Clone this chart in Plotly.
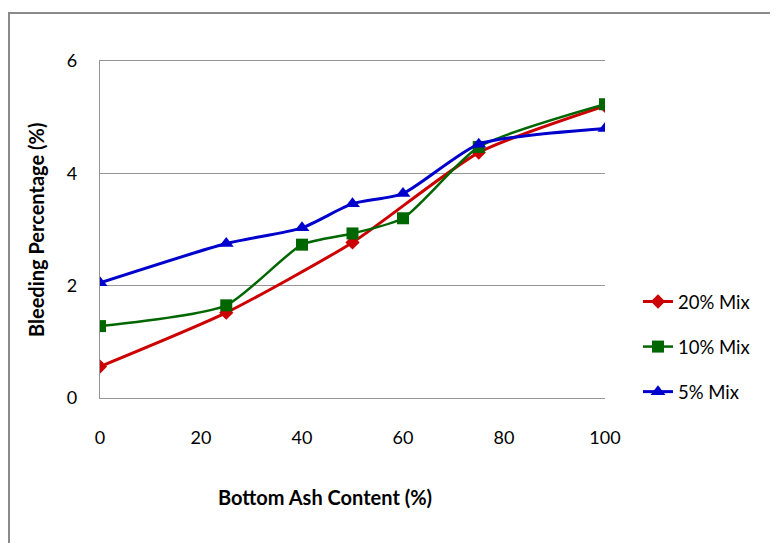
import plotly.graph_objects as go

x_20 = [0, 25, 50, 75, 100]
y_20 = [0.56, 1.52, 2.77, 4.37, 5.20]
x_10 = [0, 25, 40, 50, 60, 75, 100]
y_10 = [1.28, 1.65, 2.73, 2.93, 3.20, 4.47, 5.23]
x_5 = [0, 25, 40, 50, 60, 75, 100]
y_5 = [2.05, 2.75, 3.03, 3.46, 3.64, 4.52, 4.80]

x_ticks = [0, 20, 40, 60, 80, 100]
y_ticks = [0, 2, 4, 6]

FONT = "Lato"
OFF = 8  # default page body margin
fig = go.Figure()
fig.add_trace(go.Scatter(x=x_20, y=y_20, name="20% Mix", legendgroup="a", mode="lines+markers",
                         line=dict(color="#CC0000", width=3, shape="spline", smoothing=0.6),
                         marker=dict(symbol="diamond", size=11, color="#CC0000")))
fig.add_trace(go.Scatter(x=x_10, y=y_10, name="10% Mix", legendgroup="b", mode="lines+markers",
                         line=dict(color="#006600", width=2.5, shape="spline", smoothing=0.6),
                         marker=dict(symbol="square", size=12, color="#006600")))
fig.add_trace(go.Scatter(x=x_5, y=y_5, name="5% Mix", legendgroup="c", mode="lines+markers",
                         line=dict(color="#0000CC", width=3, shape="spline", smoothing=0.6),
                         marker=dict(symbol="triangle-up", size=13, color="#0000CC")))

# screen coordinates of plot area
L, R, T, B = 100, 605, 61, 398
W, H = 778 - OFF, 543 - OFF
pw, ph = R - L, B - T

def px(xp):
    return (xp - L) / pw

def py(yp):
    return (B - yp) / ph

fig.update_layout(
    width=W, height=H,
    margin=dict(l=L - OFF, r=778 - R, t=T - OFF, b=543 - B),
    paper_bgcolor="white", plot_bgcolor="white",
    font=dict(family=FONT, size=18, color="black"),
    showlegend=True,
    legend=dict(x=px(638), y=py(283), xanchor="left", yanchor="top",
                traceorder="grouped", tracegroupgap=18,
                font=dict(family=FONT, size=18.5), bgcolor="rgba(0,0,0,0)"),
    xaxis=dict(range=[0, 100], tickvals=x_ticks, showgrid=False, zeroline=False,
               showline=True, mirror=True, linecolor="#959595", linewidth=1.3,
               ticks="", ticklabelstandoff=23,
               tickfont=dict(family=FONT, size=18)),
    yaxis=dict(range=[0, 6], tickvals=y_ticks, showgrid=True, gridcolor="#959595", gridwidth=1.3,
               zeroline=False, showline=True, linecolor="#959595", linewidth=1.3,
               ticks="", ticklabelstandoff=18, tickfont=dict(family=FONT, size=18)),
    shapes=[dict(type="rect", xref="paper", yref="paper",
                 x0=px(9), x1=px(800), y0=py(560), y1=py(13),
                 line=dict(color="#8a8a8a", width=2), layer="below")],
    annotations=[
        dict(text="<b>Bottom Ash Content (%)</b>", xref="paper", yref="paper",
             x=px(325), y=py(497), xanchor="center", yanchor="middle",
             showarrow=False, font=dict(family=FONT, size=20)),
        dict(text="<b>Bleeding Percentage (%)</b>", xref="paper", yref="paper",
             x=px(36), y=py(230), xanchor="center", yanchor="middle",
             showarrow=False, textangle=-90, font=dict(family=FONT, size=20)),
    ],
)
fig.write_html("out.html")
